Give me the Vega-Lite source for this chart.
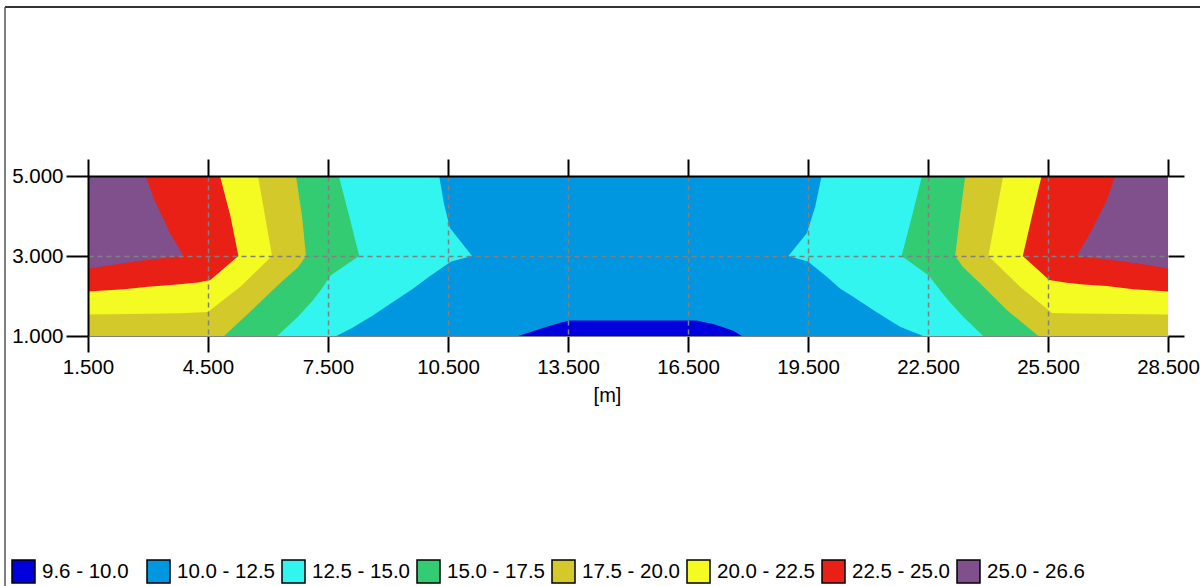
{
  "$schema": "https://vega.github.io/schema/vega-lite/v6.json",
  "width": 1080,
  "height": 160,
  "autosize": {"type": "none"},
  "padding": {"left": 88, "top": 176, "right": 32, "bottom": 250},
  "background": "white",
  "config": {
    "view": {"stroke": null},
    "font": "Liberation Sans",
    "axis": {"labelFont": "Liberation Sans", "titleFont": "Liberation Sans"},
    "legend": {"labelFont": "Liberation Sans"}
  },
  "datasets": {
    "bg": [{"cls": "10.0 - 12.5", "x": 1.5, "x2": 28.5, "y": 1, "y2": 5}],
    "frame": [{"edge": "frame"}],
    "bump": [
      {"cls": "9.6 - 10.0", "x": 12.26, "y": 1.0},
      {"cls": "9.6 - 10.0", "x": 12.6, "y": 1.11},
      {"cls": "9.6 - 10.0", "x": 12.97, "y": 1.23},
      {"cls": "9.6 - 10.0", "x": 13.3, "y": 1.33},
      {"cls": "9.6 - 10.0", "x": 13.55, "y": 1.385},
      {"cls": "9.6 - 10.0", "x": 16.72, "y": 1.385},
      {"cls": "9.6 - 10.0", "x": 16.88, "y": 1.35},
      {"cls": "9.6 - 10.0", "x": 17.13, "y": 1.3},
      {"cls": "9.6 - 10.0", "x": 17.38, "y": 1.22},
      {"cls": "9.6 - 10.0", "x": 17.63, "y": 1.13},
      {"cls": "9.6 - 10.0", "x": 17.85, "y": 1.0}
    ],
    "reg": [
      {"cls": "12.5 - 15.0", "side": "L", "x0": 1.5, "y": 1.0, "x": 7.71},
      {"cls": "12.5 - 15.0", "side": "L", "x0": 1.5, "y": 1.2, "x": 8.1},
      {"cls": "12.5 - 15.0", "side": "L", "x0": 1.5, "y": 1.5, "x": 8.6},
      {"cls": "12.5 - 15.0", "side": "L", "x0": 1.5, "y": 1.9, "x": 9.2},
      {"cls": "12.5 - 15.0", "side": "L", "x0": 1.5, "y": 2.2, "x": 9.65},
      {"cls": "12.5 - 15.0", "side": "L", "x0": 1.5, "y": 2.5, "x": 10.05},
      {"cls": "12.5 - 15.0", "side": "L", "x0": 1.5, "y": 2.86, "x": 10.58},
      {"cls": "12.5 - 15.0", "side": "L", "x0": 1.5, "y": 3.0, "x": 11.1},
      {"cls": "12.5 - 15.0", "side": "L", "x0": 1.5, "y": 3.7, "x": 10.55},
      {"cls": "12.5 - 15.0", "side": "L", "x0": 1.5, "y": 4.3, "x": 10.4},
      {"cls": "12.5 - 15.0", "side": "L", "x0": 1.5, "y": 5.0, "x": 10.28},
      {"cls": "12.5 - 15.0", "side": "R", "x0": 28.5, "y": 1.0, "x": 22.38},
      {"cls": "12.5 - 15.0", "side": "R", "x0": 28.5, "y": 1.23, "x": 21.8},
      {"cls": "12.5 - 15.0", "side": "R", "x0": 28.5, "y": 1.65, "x": 21.13},
      {"cls": "12.5 - 15.0", "side": "R", "x0": 28.5, "y": 1.98, "x": 20.63},
      {"cls": "12.5 - 15.0", "side": "R", "x0": 28.5, "y": 2.19, "x": 20.3},
      {"cls": "12.5 - 15.0", "side": "R", "x0": 28.5, "y": 2.48, "x": 19.97},
      {"cls": "12.5 - 15.0", "side": "R", "x0": 28.5, "y": 2.86, "x": 19.5},
      {"cls": "12.5 - 15.0", "side": "R", "x0": 28.5, "y": 3.0, "x": 19.01},
      {"cls": "12.5 - 15.0", "side": "R", "x0": 28.5, "y": 3.57, "x": 19.47},
      {"cls": "12.5 - 15.0", "side": "R", "x0": 28.5, "y": 4.23, "x": 19.68},
      {"cls": "12.5 - 15.0", "side": "R", "x0": 28.5, "y": 5.0, "x": 19.84},

      {"cls": "15.0 - 17.5", "side": "L", "x0": 1.5, "y": 1.0, "x": 6.23},
      {"cls": "15.0 - 17.5", "side": "L", "x0": 1.5, "y": 1.48, "x": 6.75},
      {"cls": "15.0 - 17.5", "side": "L", "x0": 1.5, "y": 1.9, "x": 7.13},
      {"cls": "15.0 - 17.5", "side": "L", "x0": 1.5, "y": 2.15, "x": 7.32},
      {"cls": "15.0 - 17.5", "side": "L", "x0": 1.5, "y": 2.52, "x": 7.57},
      {"cls": "15.0 - 17.5", "side": "L", "x0": 1.5, "y": 3.0, "x": 8.28},
      {"cls": "15.0 - 17.5", "side": "L", "x0": 1.5, "y": 4.0, "x": 8.03},
      {"cls": "15.0 - 17.5", "side": "L", "x0": 1.5, "y": 5.0, "x": 7.77},
      {"cls": "15.0 - 17.5", "side": "R", "x0": 28.5, "y": 1.0, "x": 23.88},
      {"cls": "15.0 - 17.5", "side": "R", "x0": 28.5, "y": 1.48, "x": 23.38},
      {"cls": "15.0 - 17.5", "side": "R", "x0": 28.5, "y": 1.9, "x": 23.0},
      {"cls": "15.0 - 17.5", "side": "R", "x0": 28.5, "y": 2.15, "x": 22.8},
      {"cls": "15.0 - 17.5", "side": "R", "x0": 28.5, "y": 2.52, "x": 22.51},
      {"cls": "15.0 - 17.5", "side": "R", "x0": 28.5, "y": 3.0, "x": 21.84},
      {"cls": "15.0 - 17.5", "side": "R", "x0": 28.5, "y": 4.0, "x": 22.1},
      {"cls": "15.0 - 17.5", "side": "R", "x0": 28.5, "y": 5.0, "x": 22.35},

      {"cls": "17.5 - 20.0", "side": "L", "x0": 1.5, "y": 1.0, "x": 4.9},
      {"cls": "17.5 - 20.0", "side": "L", "x0": 1.5, "y": 1.65, "x": 5.6},
      {"cls": "17.5 - 20.0", "side": "L", "x0": 1.5, "y": 2.32, "x": 6.3},
      {"cls": "17.5 - 20.0", "side": "L", "x0": 1.5, "y": 2.72, "x": 6.75},
      {"cls": "17.5 - 20.0", "side": "L", "x0": 1.5, "y": 3.0, "x": 6.95},
      {"cls": "17.5 - 20.0", "side": "L", "x0": 1.5, "y": 4.0, "x": 6.85},
      {"cls": "17.5 - 20.0", "side": "L", "x0": 1.5, "y": 5.0, "x": 6.7},
      {"cls": "17.5 - 20.0", "side": "R", "x0": 28.5, "y": 1.0, "x": 25.26},
      {"cls": "17.5 - 20.0", "side": "R", "x0": 28.5, "y": 1.65, "x": 24.47},
      {"cls": "17.5 - 20.0", "side": "R", "x0": 28.5, "y": 2.32, "x": 23.8},
      {"cls": "17.5 - 20.0", "side": "R", "x0": 28.5, "y": 2.72, "x": 23.38},
      {"cls": "17.5 - 20.0", "side": "R", "x0": 28.5, "y": 3.0, "x": 23.18},
      {"cls": "17.5 - 20.0", "side": "R", "x0": 28.5, "y": 4.0, "x": 23.3},
      {"cls": "17.5 - 20.0", "side": "R", "x0": 28.5, "y": 5.0, "x": 23.43},

      {"cls": "20.0 - 22.5", "side": "L", "x0": 1.5, "y": 1.0, "x": 1.5},
      {"cls": "20.0 - 22.5", "side": "L", "x0": 1.5, "y": 1.535, "x": 1.5},
      {"cls": "20.0 - 22.5", "side": "L", "x0": 1.5, "y": 1.55, "x": 2.6},
      {"cls": "20.0 - 22.5", "side": "L", "x0": 1.5, "y": 1.57, "x": 3.8},
      {"cls": "20.0 - 22.5", "side": "L", "x0": 1.5, "y": 1.6, "x": 4.5},
      {"cls": "20.0 - 22.5", "side": "L", "x0": 1.5, "y": 2.25, "x": 5.33},
      {"cls": "20.0 - 22.5", "side": "L", "x0": 1.5, "y": 3.0, "x": 6.1},
      {"cls": "20.0 - 22.5", "side": "L", "x0": 1.5, "y": 5.0, "x": 5.75},
      {"cls": "20.0 - 22.5", "side": "R", "x0": 28.5, "y": 1.0, "x": 28.5},
      {"cls": "20.0 - 22.5", "side": "R", "x0": 28.5, "y": 1.535, "x": 28.5},
      {"cls": "20.0 - 22.5", "side": "R", "x0": 28.5, "y": 1.55, "x": 27.4},
      {"cls": "20.0 - 22.5", "side": "R", "x0": 28.5, "y": 1.565, "x": 26.2},
      {"cls": "20.0 - 22.5", "side": "R", "x0": 28.5, "y": 1.575, "x": 25.6},
      {"cls": "20.0 - 22.5", "side": "R", "x0": 28.5, "y": 2.23, "x": 24.8},
      {"cls": "20.0 - 22.5", "side": "R", "x0": 28.5, "y": 3.0, "x": 24.01},
      {"cls": "20.0 - 22.5", "side": "R", "x0": 28.5, "y": 5.0, "x": 24.38},

      {"cls": "22.5 - 25.0", "side": "L", "x0": 1.5, "y": 1.0, "x": 1.5},
      {"cls": "22.5 - 25.0", "side": "L", "x0": 1.5, "y": 2.11, "x": 1.5},
      {"cls": "22.5 - 25.0", "side": "L", "x0": 1.5, "y": 2.17, "x": 2.4},
      {"cls": "22.5 - 25.0", "side": "L", "x0": 1.5, "y": 2.23, "x": 3.0},
      {"cls": "22.5 - 25.0", "side": "L", "x0": 1.5, "y": 2.28, "x": 3.65},
      {"cls": "22.5 - 25.0", "side": "L", "x0": 1.5, "y": 2.34, "x": 4.25},
      {"cls": "22.5 - 25.0", "side": "L", "x0": 1.5, "y": 2.4, "x": 4.56},
      {"cls": "22.5 - 25.0", "side": "L", "x0": 1.5, "y": 3.0, "x": 5.26},
      {"cls": "22.5 - 25.0", "side": "L", "x0": 1.5, "y": 4.0, "x": 5.06},
      {"cls": "22.5 - 25.0", "side": "L", "x0": 1.5, "y": 5.0, "x": 4.8},
      {"cls": "22.5 - 25.0", "side": "R", "x0": 28.5, "y": 1.0, "x": 28.5},
      {"cls": "22.5 - 25.0", "side": "R", "x0": 28.5, "y": 2.11, "x": 28.5},
      {"cls": "22.5 - 25.0", "side": "R", "x0": 28.5, "y": 2.17, "x": 27.63},
      {"cls": "22.5 - 25.0", "side": "R", "x0": 28.5, "y": 2.25, "x": 26.97},
      {"cls": "22.5 - 25.0", "side": "R", "x0": 28.5, "y": 2.29, "x": 26.38},
      {"cls": "22.5 - 25.0", "side": "R", "x0": 28.5, "y": 2.33, "x": 25.97},
      {"cls": "22.5 - 25.0", "side": "R", "x0": 28.5, "y": 2.4, "x": 25.53},
      {"cls": "22.5 - 25.0", "side": "R", "x0": 28.5, "y": 3.0, "x": 24.87},
      {"cls": "22.5 - 25.0", "side": "R", "x0": 28.5, "y": 4.0, "x": 25.1},
      {"cls": "22.5 - 25.0", "side": "R", "x0": 28.5, "y": 5.0, "x": 25.34},

      {"cls": "25.0 - 26.6", "side": "L", "x0": 1.5, "y": 1.0, "x": 1.5},
      {"cls": "25.0 - 26.6", "side": "L", "x0": 1.5, "y": 2.68, "x": 1.5},
      {"cls": "25.0 - 26.6", "side": "L", "x0": 1.5, "y": 2.78, "x": 2.13},
      {"cls": "25.0 - 26.6", "side": "L", "x0": 1.5, "y": 2.86, "x": 2.68},
      {"cls": "25.0 - 26.6", "side": "L", "x0": 1.5, "y": 2.94, "x": 3.3},
      {"cls": "25.0 - 26.6", "side": "L", "x0": 1.5, "y": 3.0, "x": 3.88},
      {"cls": "25.0 - 26.6", "side": "L", "x0": 1.5, "y": 3.15, "x": 3.8},
      {"cls": "25.0 - 26.6", "side": "L", "x0": 1.5, "y": 3.57, "x": 3.55},
      {"cls": "25.0 - 26.6", "side": "L", "x0": 1.5, "y": 3.98, "x": 3.36},
      {"cls": "25.0 - 26.6", "side": "L", "x0": 1.5, "y": 4.4, "x": 3.16},
      {"cls": "25.0 - 26.6", "side": "L", "x0": 1.5, "y": 5.0, "x": 2.94},
      {"cls": "25.0 - 26.6", "side": "R", "x0": 28.5, "y": 1.0, "x": 28.5},
      {"cls": "25.0 - 26.6", "side": "R", "x0": 28.5, "y": 2.69, "x": 28.5},
      {"cls": "25.0 - 26.6", "side": "R", "x0": 28.5, "y": 2.78, "x": 27.97},
      {"cls": "25.0 - 26.6", "side": "R", "x0": 28.5, "y": 2.86, "x": 27.38},
      {"cls": "25.0 - 26.6", "side": "R", "x0": 28.5, "y": 2.94, "x": 26.8},
      {"cls": "25.0 - 26.6", "side": "R", "x0": 28.5, "y": 3.0, "x": 26.22},
      {"cls": "25.0 - 26.6", "side": "R", "x0": 28.5, "y": 3.15, "x": 26.3},
      {"cls": "25.0 - 26.6", "side": "R", "x0": 28.5, "y": 3.57, "x": 26.55},
      {"cls": "25.0 - 26.6", "side": "R", "x0": 28.5, "y": 3.98, "x": 26.76},
      {"cls": "25.0 - 26.6", "side": "R", "x0": 28.5, "y": 4.4, "x": 26.97},
      {"cls": "25.0 - 26.6", "side": "R", "x0": 28.5, "y": 5.0, "x": 27.18}
    ]
  },
  "layer": [
    {
      "data": {"name": "bg"},
      "mark": {"type": "rect"},
      "encoding": {
        "x": {
          "field": "x", "type": "quantitative",
          "scale": {"domain": [1.5, 28.5], "nice": false, "zero": false},
          "axis": {
            "orient": "bottom",
            "values": [1.5, 4.5, 7.5, 10.5, 13.5, 16.5, 19.5, 22.5, 25.5, 28.5],
            "format": ".3f",
            "labelFontSize": 20.5, "labelColor": "black", "labelPadding": 5,
            "labelFlush": false, "labelOverlap": false,
            "tickSize": 16, "tickColor": "black", "tickWidth": 2,
            "domainColor": "#808080", "domainWidth": 1,
            "grid": true, "gridColor": "#808080", "gridDash": [5, 4], "gridWidth": 1.5,
            "gridOpacity": {"condition": {"test": "datum.value <= 1.6 || datum.value >= 28.4", "value": 0}, "value": 1},
            "title": "[m]", "titleFontSize": 20, "titleFontWeight": "normal", "titleColor": "black",
            "titlePadding": 8, "titleX": 519,
            "zindex": 1
          }
        },
        "x2": {"field": "x2"},
        "y": {
          "field": "y", "type": "quantitative",
          "scale": {"domain": [1, 5], "nice": false, "zero": false},
          "axis": {
            "orient": "left",
            "values": [1, 3, 5],
            "format": ".3f",
            "labelFontSize": 20.5, "labelColor": "black", "labelPadding": 3,
            "labelFlush": false, "labelOverlap": false,
            "tickSize": 22, "tickColor": "black", "tickWidth": 2,
            "domainColor": "black", "domainWidth": 2,
            "grid": true, "gridColor": "#808080", "gridDash": [5, 4], "gridWidth": 1.5,
            "gridOpacity": {"condition": {"test": "datum.value <= 1.1 || datum.value >= 4.9", "value": 0}, "value": 1},
            "title": null,
            "zindex": 2
          }
        },
        "y2": {"field": "y2"},
        "color": {
          "field": "cls", "type": "nominal",
          "scale": {
            "domain": ["9.6 - 10.0", "10.0 - 12.5", "12.5 - 15.0", "15.0 - 17.5", "17.5 - 20.0", "20.0 - 22.5", "22.5 - 25.0", "25.0 - 26.6"],
            "range": ["#0000dc", "#0096e0", "#32f5f0", "#33cc72", "#d4c92b", "#f3fb23", "#e82015", "#80508d"]
          },
          "legend": {
            "title": null,
            "orient": "none",
            "legendX": -77,
            "legendY": 383,
            "direction": "horizontal",
            "columns": 8,
            "gridAlign": "all",
            "columnPadding": 3,
            "padding": 0,
            "symbolType": "square",
            "symbolSize": 529,
            "symbolStrokeColor": "black",
            "symbolStrokeWidth": 1.5,
            "symbolOpacity": 1,
            "labelFontSize": 20.5,
            "labelColor": "black",
            "labelOffset": 6,
            "labelLimit": 200,
            "encode": {"symbols": {"update": {"stroke": {"value": "black"}, "strokeWidth": {"value": 1.5}}}}
          }
        }
      }
    },
    {
      "data": {"name": "bump"},
      "mark": {"type": "area", "orient": "vertical", "opacity": 1},
      "encoding": {
        "x": {
          "field": "x", "type": "quantitative",
          "axis": {
            "orient": "top",
            "values": [1.5, 4.5, 7.5, 10.5, 13.5, 16.5, 19.5, 22.5, 25.5, 28.5],
            "labels": false,
            "tickSize": 17, "tickColor": "black", "tickWidth": 2,
            "domainColor": "black", "domainWidth": 2,
            "grid": false, "title": null, "zindex": 2
          }
        },
        "y": {
          "field": "y", "type": "quantitative",
          "axis": {
            "orient": "right",
            "values": [1, 3, 5],
            "labels": false,
            "tickSize": 16, "tickColor": "black", "tickWidth": 2,
            "domain": false,
            "grid": false, "title": null, "zindex": 2
          }
        },
        "y2": {"datum": 1},
        "color": {"field": "cls", "type": "nominal"}
      }
    },
    {
      "data": {"name": "reg"},
      "transform": [{"filter": {"field": "cls", "equal": "12.5 - 15.0"}}],
      "mark": {"type": "area", "orient": "horizontal", "opacity": 1},
      "encoding": {
        "y": {"field": "y", "type": "quantitative", "axis": null},
        "x": {"field": "x", "type": "quantitative", "axis": null, "stack": null},
        "x2": {"field": "x0"},
        "detail": {"field": "side"},
        "color": {"field": "cls", "type": "nominal"}
      }
    },
    {
      "data": {"name": "reg"},
      "transform": [{"filter": {"field": "cls", "equal": "15.0 - 17.5"}}],
      "mark": {"type": "area", "orient": "horizontal", "opacity": 1},
      "encoding": {
        "y": {"field": "y", "type": "quantitative", "axis": null},
        "x": {"field": "x", "type": "quantitative", "axis": null, "stack": null},
        "x2": {"field": "x0"},
        "detail": {"field": "side"},
        "color": {"field": "cls", "type": "nominal"}
      }
    },
    {
      "data": {"name": "reg"},
      "transform": [{"filter": {"field": "cls", "equal": "17.5 - 20.0"}}],
      "mark": {"type": "area", "orient": "horizontal", "opacity": 1},
      "encoding": {
        "y": {"field": "y", "type": "quantitative", "axis": null},
        "x": {"field": "x", "type": "quantitative", "axis": null, "stack": null},
        "x2": {"field": "x0"},
        "detail": {"field": "side"},
        "color": {"field": "cls", "type": "nominal"}
      }
    },
    {
      "data": {"name": "reg"},
      "transform": [{"filter": {"field": "cls", "equal": "20.0 - 22.5"}}],
      "mark": {"type": "area", "orient": "horizontal", "opacity": 1},
      "encoding": {
        "y": {"field": "y", "type": "quantitative", "axis": null},
        "x": {"field": "x", "type": "quantitative", "axis": null, "stack": null},
        "x2": {"field": "x0"},
        "detail": {"field": "side"},
        "color": {"field": "cls", "type": "nominal"}
      }
    },
    {
      "data": {"name": "reg"},
      "transform": [{"filter": {"field": "cls", "equal": "22.5 - 25.0"}}],
      "mark": {"type": "area", "orient": "horizontal", "opacity": 1},
      "encoding": {
        "y": {"field": "y", "type": "quantitative", "axis": null},
        "x": {"field": "x", "type": "quantitative", "axis": null, "stack": null},
        "x2": {"field": "x0"},
        "detail": {"field": "side"},
        "color": {"field": "cls", "type": "nominal"}
      }
    },
    {
      "data": {"name": "reg"},
      "transform": [{"filter": {"field": "cls", "equal": "25.0 - 26.6"}}],
      "mark": {"type": "area", "orient": "horizontal", "opacity": 1},
      "encoding": {
        "y": {"field": "y", "type": "quantitative", "axis": null},
        "x": {"field": "x", "type": "quantitative", "axis": null, "stack": null},
        "x2": {"field": "x0"},
        "detail": {"field": "side"},
        "color": {"field": "cls", "type": "nominal"}
      }
    },
    {
      "data": {"name": "frame"},
      "mark": {"type": "rule", "color": "#333333", "strokeWidth": 2, "clip": false},
      "encoding": {
        "x": {"datum": -0.575, "type": "quantitative", "axis": null},
        "x2": {"datum": 30.5},
        "y": {"datum": 9.225, "type": "quantitative", "axis": null}
      }
    },
    {
      "data": {"name": "frame"},
      "mark": {"type": "rule", "color": "#555555", "strokeWidth": 1.5, "clip": false},
      "encoding": {
        "x": {"datum": -0.575, "type": "quantitative", "axis": null},
        "y": {"datum": 9.225, "type": "quantitative", "axis": null},
        "y2": {"datum": -6}
      }
    }
  ],
  "resolve": {"axis": {"x": "independent", "y": "independent"}}
}
